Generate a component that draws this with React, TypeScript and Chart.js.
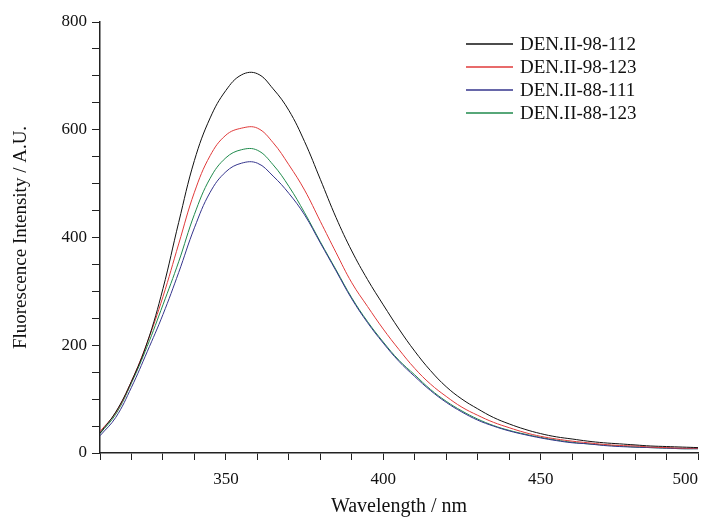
import React, { useEffect, useRef } from 'react';
import { Chart, registerables } from 'chart.js';

Chart.register(...registerables);

const wavelengths = [
  310, 315, 320, 325, 330, 335, 340, 345, 350, 355, 360, 365, 370, 375, 380, 385, 390, 395, 400,
  405, 410, 415, 420, 425, 430, 435, 440, 445, 450, 455, 460, 465, 470, 475, 480, 485, 490, 495, 500,
];

const den98_112 = [
  37, 76, 133, 205, 305, 428, 543, 622, 673, 702, 704, 676, 636, 578, 508, 437, 375, 322, 275,
  230, 189, 153, 123, 100, 82, 66, 54, 44, 36, 30, 26, 22, 19, 17, 15, 13, 12, 11, 10,
];

const den98_123 = [
  40, 75, 133, 205, 290, 388, 484, 552, 590, 603, 603, 576, 535, 488, 430, 372, 316, 272, 230,
  192, 157, 128, 105, 85, 70, 57, 47, 38, 31, 26, 22, 19, 16, 14, 13, 11, 10, 9, 9,
];

const den88_111 = [
  32, 66, 122, 188, 257, 335, 418, 484, 522, 538, 538, 514, 482, 442, 390, 338, 286, 242, 204,
  170, 142, 116, 94, 76, 61, 50, 41, 34, 28, 23, 19, 17, 14, 12, 11, 10, 9, 8, 8,
];

const den88_123 = [
  36, 72, 130, 198, 275, 355, 443, 510, 548, 563, 562, 535, 495, 446, 392, 340, 288, 244, 206,
  172, 145, 118, 96, 78, 63, 51, 42, 35, 29, 24, 20, 17, 15, 13, 11, 10, 9, 8, 8,
];

const seriesLabels = ['DEN.II-98-112', 'DEN.II-98-123', 'DEN.II-88-111', 'DEN.II-88-123'];
const seriesColors = ['#111111', '#e03a3a', '#34348c', '#1f8a4c'];
const seriesValues = [den98_112, den98_123, den88_111, den88_123];

const xTickLabels = [350, 400, 450, 500];
const yTickLabels = [0, 200, 400, 600, 800];

const FONT = '"Liberation Serif", "Times New Roman", serif';

const legendPlugin = {
  id: 'insideLegend',
  afterDraw(chart: any) {
    const ctx = chart.ctx;
    ctx.save();
    seriesLabels.forEach((label, i) => {
      const y = 44 + i * 23;
      ctx.strokeStyle = seriesColors[i];
      ctx.lineWidth = 1.5;
      ctx.beginPath();
      ctx.moveTo(466, y);
      ctx.lineTo(513, y);
      ctx.stroke();
      ctx.fillStyle = '#111111';
      ctx.font = '19px ' + FONT;
      ctx.textBaseline = 'middle';
      ctx.textAlign = 'left';
      ctx.fillText(label, 520, y + 1);
    });
    ctx.restore();
  },
};

export default function App() {
  const canvasRef = useRef<HTMLCanvasElement | null>(null);

  useEffect(() => {
    if (!canvasRef.current) return;
    const datasets = seriesLabels.map((label, i) => ({
      label,
      data: wavelengths.map((w, j) => ({ x: w, y: seriesValues[i][j] })),
      borderColor: seriesColors[i],
      backgroundColor: seriesColors[i],
      borderWidth: 1,
      pointRadius: 0,
      fill: false,
      tension: 0.4,
    }));

    const chart = new Chart(canvasRef.current, {
      type: 'line',
      data: { datasets },
      plugins: [legendPlugin],
      options: {
        animation: false,
        responsive: false,
        layout: { padding: { left: 0, right: 3, top: 22, bottom: 0 } },
        plugins: {
          legend: { display: false },
          tooltip: { enabled: false },
        },
        scales: {
          x: {
            type: 'linear',
            min: 310,
            max: 500,
            ticks: {
              stepSize: 10,
              autoSkip: false,
              maxRotation: 0,
              align: 'inner',
              padding: 9,
              color: '#111111',
              font: { family: FONT, size: 17 },
              callback: (v: any) => (xTickLabels.includes(Number(v)) ? String(v) : ''),
            },
            grid: {
              drawOnChartArea: false,
              drawTicks: true,
              tickLength: 7,
              color: '#222222',
            },
            border: { display: true, color: '#222222', width: 1.5 },
            title: {
              display: true,
              text: 'Wavelength / nm',
              color: '#111111',
              font: { family: FONT, size: 20 },
              padding: { top: 0, bottom: 0 },
            },
            afterFit: (scale: any) => {
              scale.height = 66;
              scale.paddingLeft = 0;
              scale.paddingRight = 0;
            },
          },
          y: {
            type: 'linear',
            min: 0,
            max: 800,
            ticks: {
              stepSize: 50,
              autoSkip: false,
              padding: 5,
              color: '#111111',
              font: { family: FONT, size: 17 },
              callback: (v: any) => (yTickLabels.includes(Number(v)) ? String(v) : ''),
            },
            grid: {
              drawOnChartArea: false,
              drawTicks: true,
              tickLength: 8,
              color: '#222222',
            },
            border: { display: true, color: '#222222', width: 1.5 },
            title: {
              display: true,
              text: 'Fluorescence Intensity / A.U.',
              color: '#111111',
              font: { family: FONT, size: 19 },
              padding: { top: 10, bottom: 0 },
            },
            afterFit: (scale: any) => {
              scale.width = 100;
            },
          },
        },
      },
    });
    return () => chart.destroy();
  }, []);

  return (
    <div style={{ position: 'absolute', left: 0, top: 0, width: 701, height: 519, background: '#ffffff' }}>
      <canvas ref={canvasRef} width={701} height={519} style={{ display: 'block' }} />
    </div>
  );
}
